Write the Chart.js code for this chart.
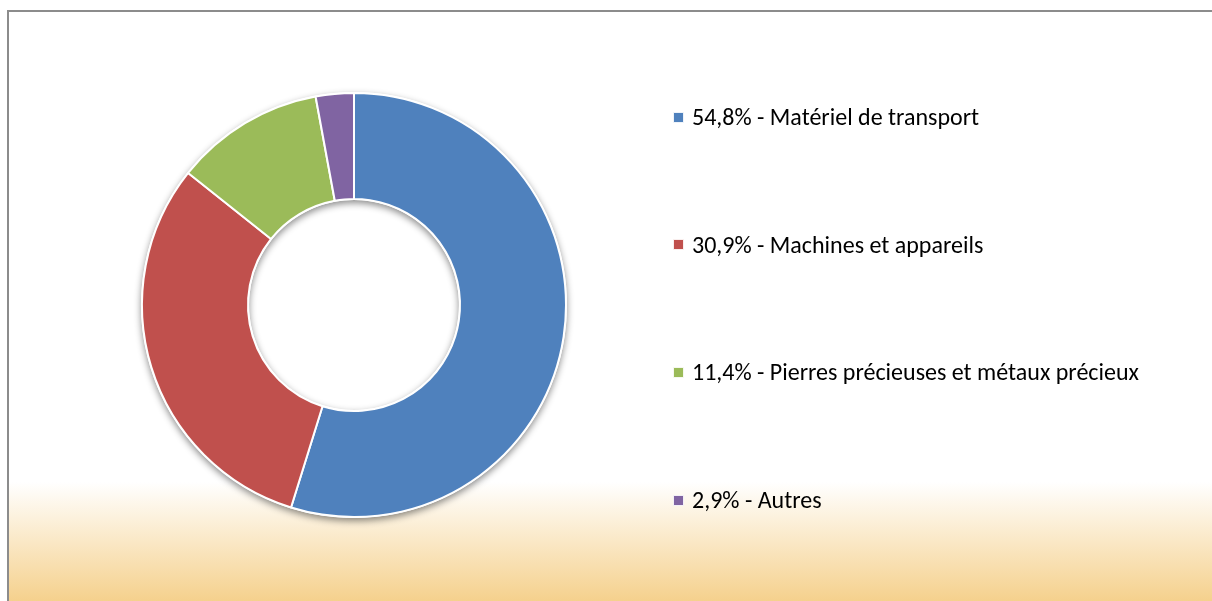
<!DOCTYPE html>
<html>
<head>
<meta charset="utf-8">
<script src="https://cdn.jsdelivr.net/npm/chart.js@4.4.1/dist/chart.umd.min.js"></script>
<style>
  html, body { margin: 0; padding: 0; width: 1212px; height: 601px; overflow: hidden; background: #ffffff; }
  #frame {
    position: absolute; left: 7px; top: 10px; width: 1300px; height: 640px;
    border: 2px solid #8c8c8c; box-sizing: border-box;
    background: linear-gradient(to bottom, #ffffff 0px, #ffffff 470px, #f5d08b 591px, #f4cd85 630px);
  }
  #wrap { position: absolute; left: 0; top: 0; width: 1212px; height: 601px; }
  #legend { position: absolute; left: 673px; top: 0; font-family: Carlito, Calibri, "Open Sans", sans-serif; font-size: 24px; color: #000; }
  .item { position: absolute; left: 0; white-space: nowrap; display: flex; align-items: center; height: 26px; line-height: 26px; }
  .sw { width: 11px; height: 11px; margin-right: 8px; box-sizing: border-box; border: 1px solid rgba(255,255,255,0.9); }
</style>
</head>
<body>
<div id="frame"></div>
<div id="wrap"><canvas id="c" width="1212" height="601"></canvas></div>
<div id="legend"></div>
<script>
const categories = ["Matériel de transport", "Machines et appareils", "Pierres précieuses et métaux précieux", "Autres"];
const shares = [54.8, 30.9, 11.4, 2.9];
const shareLabels = ["54,8%", "30,9%", "11,4%", "2,9%"];
const colors = ["#4f81bd", "#c0504d", "#9bbb59", "#8064a2"];

// HTML legend built from the arrays
const legend = document.getElementById('legend');
categories.forEach((cat, i) => {
  const item = document.createElement('div');
  item.className = 'item';
  item.style.top = (104 + i * 127.7) + 'px';
  const sw = document.createElement('span');
  sw.className = 'sw';
  sw.style.background = colors[i];
  const tx = document.createElement('span');
  tx.textContent = shareLabels[i] + ' - ' + cat;
  item.appendChild(sw); item.appendChild(tx);
  legend.appendChild(item);
});

const ringShadow = {
  id: 'ringShadow',
  beforeDatasetsDraw(chart) {
    const meta = chart.getDatasetMeta(0);
    if (!meta.data.length) return;
    const a = meta.data[0];
    const ctx = chart.ctx;
    ctx.save();
    ctx.shadowColor = 'rgba(0,0,0,0.45)';
    ctx.shadowBlur = 7;
    ctx.shadowOffsetX = 0;
    ctx.shadowOffsetY = 3;
    ctx.fillStyle = '#ffffff';
    ctx.beginPath();
    ctx.arc(a.x, a.y, a.outerRadius + 1, 0, Math.PI * 2, false);
    ctx.arc(a.x, a.y, a.innerRadius - 1, 0, Math.PI * 2, true);
    ctx.closePath();
    ctx.fill('evenodd');
    ctx.restore();
  }
};

new Chart(document.getElementById('c'), {
  type: 'doughnut',
  data: {
    labels: categories,
    datasets: [{
      data: shares,
      backgroundColor: colors,
      borderColor: '#ffffff',
      borderWidth: 2,
      borderAlign: 'center'
    }]
  },
  options: {
    responsive: false,
    animation: false,
    radius: 212,
    cutout: '50%',
    rotation: 0,
    layout: { padding: { left: 0, right: 504, top: 9, bottom: 0 } },
    plugins: {
      legend: { display: false },
      tooltip: { enabled: false }
    }
  },
  plugins: [ringShadow]
});
</script>
</body>
</html>
